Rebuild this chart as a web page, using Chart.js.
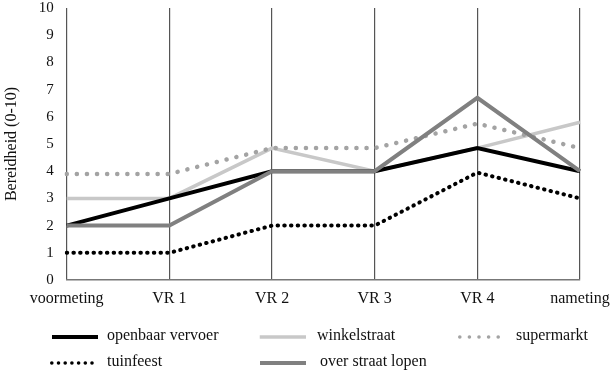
<!DOCTYPE html>
<html>
<head>
<meta charset="utf-8">
<script src="https://cdn.jsdelivr.net/npm/chart.js@4"></script>
<style>
  html, body { margin: 0; padding: 0; background: #fff; }
  #wrap { width: 612px; height: 372px; position: relative; }
</style>
</head>
<body>
<div id="wrap"><canvas id="chart"></canvas></div>
<script>
const categories = ['voormeting', 'VR 1', 'VR 2', 'VR 3', 'VR 4', 'nameting'];
const openbaarVervoer = [2, 3, 4, 4, 4.85, 4];
const winkelstraat = [3, 3, 4.85, 4, 4.85, 5.8];
const supermarkt = [3.9, 3.9, 4.85, 4.85, 5.75, 4.85];
const tuinfeest = [1, 1, 2, 2, 3.95, 3];
const overStraatLopen = [2, 2, 4, 4, 6.7, 4];
const yTicks = [0, 1, 2, 3, 4, 5, 6, 7, 8, 9, 10];
const yTitle = 'Bereidheid (0-10)';

const serif = '"Liberation Serif", "DejaVu Serif", serif';

// legend slots: [lineStartX, rowY, textOffset]
const legendSlots = [
    [50, 337, 57],
    [258, 337, 59],
    [458, 337, 58],
    [50, 363, 57],
    [258, 363, 62]
];

const gridLegend = {
    id: 'gridLegend',
    afterDraw(chart) {
        const ctx = chart.ctx;
        chart.data.datasets.forEach(function(ds, i) {
            const slot = legendSlots[i];
            ctx.save();
            ctx.strokeStyle = ds.borderColor;
            ctx.lineWidth = ds.legendWidth || ds.borderWidth;
            ctx.lineCap = ds.borderCapStyle || 'butt';
            ctx.setLineDash(ds.legendDash || ds.borderDash || []);
            ctx.beginPath();
            ctx.moveTo(slot[0] + ctx.lineWidth / 2, slot[1]);
            ctx.lineTo(slot[0] + 48, slot[1]);
            ctx.stroke();
            ctx.setLineDash([]);
            ctx.fillStyle = '#111';
            ctx.font = '16px ' + serif;
            ctx.textBaseline = 'middle';
            ctx.fillText(ds.label, slot[0] + slot[2], slot[1] - 1);
            ctx.restore();
        });
    }
};

const ctx = document.getElementById('chart').getContext('2d');
new Chart(ctx, {
    type: 'line',
    data: {
        labels: categories,
        datasets: [
            {
                label: 'openbaar vervoer',
                data: openbaarVervoer,
                borderColor: '#000000',
                borderWidth: 4,
                order: 2
            },
            {
                label: 'winkelstraat',
                data: winkelstraat,
                borderColor: '#c8c8c8',
                borderWidth: 3.5,
                order: 5
            },
            {
                label: 'supermarkt',
                data: supermarkt,
                borderColor: '#a3a3a3',
                borderWidth: 4.5,
                borderCapStyle: 'round',
                borderDash: [0.1, 10],
                legendWidth: 3.5,
                legendDash: [0.1, 9.5],
                order: 4
            },
            {
                label: 'tuinfeest',
                data: tuinfeest,
                borderColor: '#000000',
                borderWidth: 4,
                borderCapStyle: 'round',
                borderDash: [0.5, 6.2],
                legendWidth: 3.5,
                legendDash: [0.1, 6.6],
                order: 3
            },
            {
                label: 'over straat lopen',
                data: overStraatLopen,
                borderColor: '#808080',
                borderWidth: 4,
                order: 1
            }
        ]
    },
    options: {
        responsive: true,
        maintainAspectRatio: false,
        animation: false,
        elements: {
            point: { radius: 0 },
            line: { tension: 0, fill: false, borderJoinStyle: 'miter' }
        },
        layout: { padding: { top: 8, right: 32, left: 0, bottom: 0 } },
        plugins: {
            legend: { display: false },
            tooltip: { enabled: false }
        },
        scales: {
            x: {
                offset: false,
                grid: { display: true, color: '#555', lineWidth: 1.2, drawTicks: false },
                border: { display: true, color: '#777', width: 1.5 },
                ticks: {
                    color: '#111',
                    font: { family: serif, size: 16 },
                    padding: 9,
                    maxRotation: 0,
                    autoSkip: false
                },
                afterFit(scale) {
                    scale.height = 92;
                    scale.paddingLeft = 0;
                    scale.paddingRight = 0;
                }
            },
            y: {
                min: 0,
                max: 10,
                afterBuildTicks(scale) {
                    scale.ticks = yTicks.map(function(v) { return { value: v }; });
                },
                grid: { display: false, drawTicks: false },
                border: { display: false },
                ticks: {
                    color: '#111',
                    font: { family: serif, size: 15 },
                    padding: 13
                },
                title: {
                    display: true,
                    text: yTitle,
                    color: '#111',
                    font: { family: serif, size: 16 },
                    padding: { top: 2, bottom: 0 }
                },
                afterFit(scale) {
                    scale.width = 66.7;
                    scale.paddingTop = 0;
                    scale.paddingBottom = 0;
                }
            }
        }
    },
    plugins: [gridLegend]
});
</script>
</body>
</html>
